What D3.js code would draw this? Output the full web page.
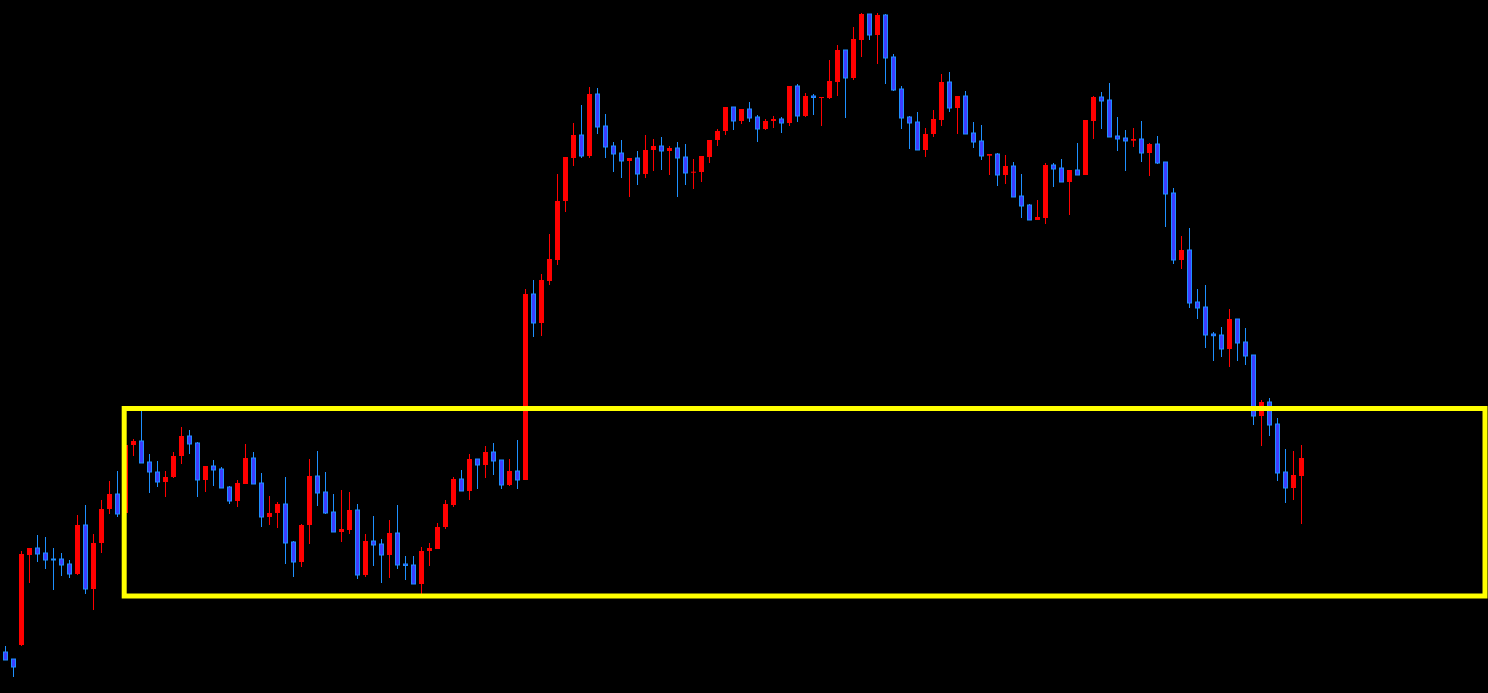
<!DOCTYPE html>
<html>
<head>
<meta charset="utf-8">
<script src="https://cdn.jsdelivr.net/npm/d3@7"></script>
<style>
  html, body { margin: 0; padding: 0; background: #000; }
  svg { display: block; }
</style>
</head>
<body>
<svg id="chart" width="1488" height="693"></svg>
<script>
// Price values (arbitrary units)
const opens = [41,34,48,138,145,140,134,134,129,119,168,104,150,184,199,180,248,252,231,221,211,216,237,257,250,213,227,224,206,192,209,235,210,176,180,189,151,131,168,217,201,181,161,163,183,118,152,149,138,160,129,128,109,142,144,166,188,214,202,234,228,241,233,208,222,213,399,370,412,433,492,535,558,537,599,567,547,540,532,535,519,543,547,542,545,536,520.3,521,536,553,562,586,572,584,576,564,572,574,570,607,577,597,595.3,595,611,643,615,653,679,658,678,636,604,576,571,543,559,573,611,585,597,560,552,537.3,539,518,527,497,488,473,475,528,525,511,523,518,572,596,593,557,555,552.3,554,540,549,531,500,433,443,391,386,359,358,344,374,351,338,277,291,269,221,205,217];
const closes = [33,26,139,145,139,133,133.5,128,119,168,104,150,184,199,179,248,252,230,221,211,216,237,257,249,213,227,223,205,192,210,235,209,176,180,189,150,131,168,217,200,180,161,164,183,118,152,148,138,160,128,127.5,109,142,145,166,189,214,202,234,228,241,232,208,222,213,399,370,413,434,492,536,558,537,599,566,546,539,532,535,519,543,547,542,545,535,520,521.3,537,553,562,586,572,584,575,564,572,574,570,607,577,597,595.5,596,612,643,615,654,679,658,678,635,603,575,570,543,559,574,611,585,597,559,551,537,539,518,527,496,487,473,476,528,524,511,523,518,573,596,592,556,554,552,554,540,549,530,499,433,443,390,385,358,357.3,344,374,350,337,277,291,268,220,205,218,235];
const highs = [47,34,142,145,158,156,145,140,133,178,188,159,193,212,222,249,254,282,239,232,222,241,266,263,251,227,233,226,207,213,249,241,220,197,191,216,152,169,234,242,221,199,203,201,189,159,177,154,173,188,137,137,146,150,170,193,216,223,239,234,247,250,233,234,253,404,413,419,459,519,536,570,588,606,605,579,551,553,535,542,558,554,556,547,551,549,534,537,553,564,586,586,584,591,578,574,577,576,607,609,600,599,596,633,648,643,666,680,679,680,679,639,607,577,581,565,583,619,621,597,602,571,568,539,540,538,531,519,489,493,530,530,534,523,550,573,597,601,610,576,563,565,572,550,557,531,505,457,465,404,408,361,366,384,374,365,338,293,295,275,244,242,248];
const lows = [33,16,47,110,131,124,103,117,115,118,99,83,140,179,176,179,237,230,200,206,196,215,229,239,196,201,207,205,189,186,209,209,166,168,165,129,116,126,149,187,179,161,151,159,114,116,127,110,115,124,113,109,99,127,144,164,186,202,193,204,215,218,204,207,204,213,356,357,408,428,481,527,535,535,559,535,521,515,496,508,515,522,523,518,496,508,504,511,530,547,558,563,569,571,551,563,565,560,567,571,576,578,567,594,597,575,613,636,653,629,609,602,564,544,543,536,556,567,581,559,559,545,533,518,507,509,496,475,473,473,469,506,511,478,518,518,554,564,556,542,522,546,531,517,529,466,429,424,385,374,345,332,336,326,332,328,268,247,257,212,190,193,169];

// Highlighted zone (candle index span and price span)
const zoneStart = [14.9];
const zoneEnd = [185.0];
const zoneTop = [284.5];
const zoneBottom = [97];

const W = 1488, H = 693;
const svg = d3.select("#chart");
svg.append("rect").attr("width", W).attr("height", H).attr("fill", "#000");

const x = d3.scaleLinear().domain([0, opens.length - 1]).range([5.5, 5.5 + 8 * (opens.length - 1)]);
const y = d3.scaleLinear().domain([0, 693]).range([693, 0]);

const candles = opens.map((o, i) => ({ i, o, c: closes[i], h: highs[i], l: lows[i] }));

const RED = "#ff0000", BLUE_FILL = "#3d3dff", BLUE_EDGE = "#1e90ff";

const g = svg.append("g");
// wicks
g.selectAll("line.wick").data(candles).join("line")
  .attr("class", "wick")
  .attr("x1", d => x(d.i)).attr("x2", d => x(d.i))
  .attr("y1", d => y(d.h)).attr("y2", d => y(d.l))
  .attr("stroke", d => d.c >= d.o ? RED : BLUE_EDGE)
  .attr("stroke-width", 1);

// bodies
g.selectAll("rect.body").data(candles).join("rect")
  .attr("class", "body")
  .attr("x", d => d.c >= d.o ? x(d.i) - 2.5 : x(d.i) - 2)
  .attr("width", d => d.c >= d.o ? 5 : 4)
  .attr("y", d => y(Math.max(d.o, d.c)))
  .attr("height", d => Math.max(1, Math.abs(y(d.o) - y(d.c))))
  .attr("fill", d => d.c >= d.o ? RED : BLUE_FILL)
  .attr("stroke", d => d.c >= d.o ? "none" : BLUE_EDGE)
  .attr("stroke-width", 1);

// zone rectangle
svg.selectAll("rect.zone").data(zoneStart.map((s, k) => ({ s, e: zoneEnd[k], t: zoneTop[k], b: zoneBottom[k] })))
  .join("rect")
  .attr("class", "zone")
  .attr("x", d => x(d.s) - 0.5)
  .attr("y", d => y(d.t))
  .attr("width", d => x(d.e) - x(d.s))
  .attr("height", d => y(d.b) - y(d.t))
  .attr("fill", "none")
  .attr("stroke", "#ffff00")
  .attr("stroke-width", 5);
</script>
</body>
</html>
